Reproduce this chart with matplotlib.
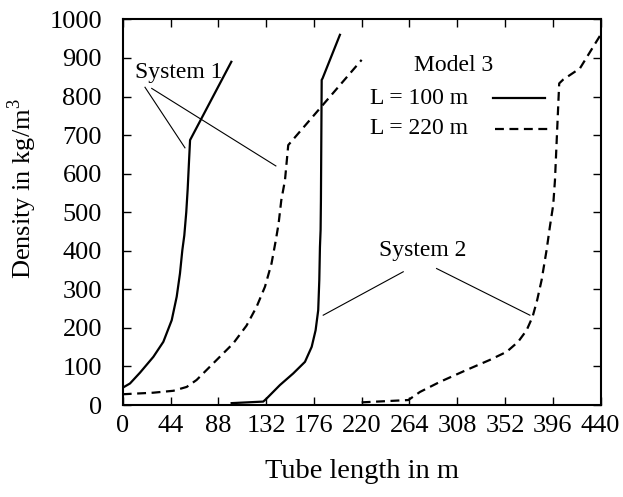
import numpy as np
import matplotlib
matplotlib.use('Agg')
import matplotlib.pyplot as plt

plt.rcParams['font.family'] = ['Liberation Serif', 'DejaVu Serif']
plt.rcParams['mathtext.fontset'] = 'custom'
plt.rcParams['mathtext.rm'] = 'Liberation Serif'

# System 1, L = 100 m (solid)
s1_100_x = [0, 6.7, 15.9, 28.2, 37.4, 45.1, 49.7, 52.7, 54.9, 56.7, 58.5, 59.8, 61, 62, 100]
s1_100_y = [45, 56, 84, 125, 164, 220, 281, 341, 402, 440, 500, 560, 630, 687, 890]
# System 1, L = 220 m (dashed)
s1_220_x = [0, 28, 46.6, 58.9, 68, 86.5, 101.8, 114, 123.3, 131, 137, 141, 143.5, 146, 149.4, 152.4, 220]
s1_220_y = [28, 32, 37, 47, 65, 117, 160, 206, 255, 307, 367, 428, 470, 531, 583, 674, 895]
# System 2, L = 100 m (solid)
s2_100_x = [100.3, 129.4, 132.5, 144.8, 157, 167.8, 174, 177.6, 180, 181, 181.6, 182.2, 182.5, 183.2, 184, 200]
s2_100_y = [5, 9, 17, 52, 82, 112, 151, 194, 246, 324, 410, 454, 531, 843, 847, 960]
# System 2, L = 220 m (dashed)
s2_220_x = [220, 263, 273.7, 292, 316.6, 338, 353.5, 364.1, 371.9, 377.4, 381.6, 385.7, 390.3,
            393.3, 396.4, 398, 401.9, 405.6, 421, 440]
s2_220_y = [7, 13, 34, 60, 91, 117, 138, 164, 194, 229, 272, 324, 402,
            462, 519, 583, 834, 844, 873, 960]

xticks = [0, 44, 88, 132, 176, 220, 264, 308, 352, 396, 440]
yticks = list(range(0, 1001, 100))

dash = (0, (4, 2.5))

fig = plt.figure(figsize=(6.23, 4.97), dpi=100)
ax = fig.add_axes([0.197, 0.185, 0.767, 0.776])

ax.plot(s1_100_x, s1_100_y, color='black', lw=1.6)
ax.plot(s1_220_x, s1_220_y, color='black', lw=1.6, linestyle=dash)
ax.plot(s2_100_x, s2_100_y, color='black', lw=1.6)
ax.plot(s2_220_x, s2_220_y, color='black', lw=1.6, linestyle=dash)

# annotations
ax.text(51.8, 863, 'System 1', fontsize=17, ha='center', va='center')
ax.plot([20.5, 57.3], [824, 667], color='black', lw=0.8)
ax.plot([26.7, 141], [821, 620], color='black', lw=0.8)
ax.text(276.5, 402, 'System 2', fontsize=17, ha='center', va='center')
ax.plot([258.3, 184.6], [345.6, 233], color='black', lw=0.8)
ax.plot([289, 374.9], [354, 233], color='black', lw=0.8)

# legend
ax.text(305, 881, 'Model 3', fontsize=17, ha='center', va='center')
ax.text(227.6, 795, 'L = 100 m', fontsize=17, ha='left', va='center')
ax.plot([341, 388.7], [795, 795], color='black', lw=1.6)
ax.text(227.6, 717, 'L = 220 m', fontsize=17, ha='left', va='center')
ax.plot([342.7, 391.8], [717, 717], color='black', lw=1.6, linestyle=dash)

ax.set_xlim(0, 440)
ax.set_ylim(0, 1000)
ax.set_xticks(xticks)
ax.set_yticks(yticks)
ax.tick_params(direction='in', top=True, right=True, length=6, width=1, labelsize=19)
ax.tick_params(axis='y', pad=15)
ax.tick_params(axis='x', pad=7)
for s in ax.spines.values():
    s.set_linewidth(1.5)

ax.set_xlabel('Tube length in m', fontsize=20.5, labelpad=16)
ax.set_ylabel('Density in kg/m$^\\mathrm{3}$', fontsize=19)
ax.yaxis.set_label_coords(-0.176, 0.56)

plt.savefig('out.png', dpi=100)
